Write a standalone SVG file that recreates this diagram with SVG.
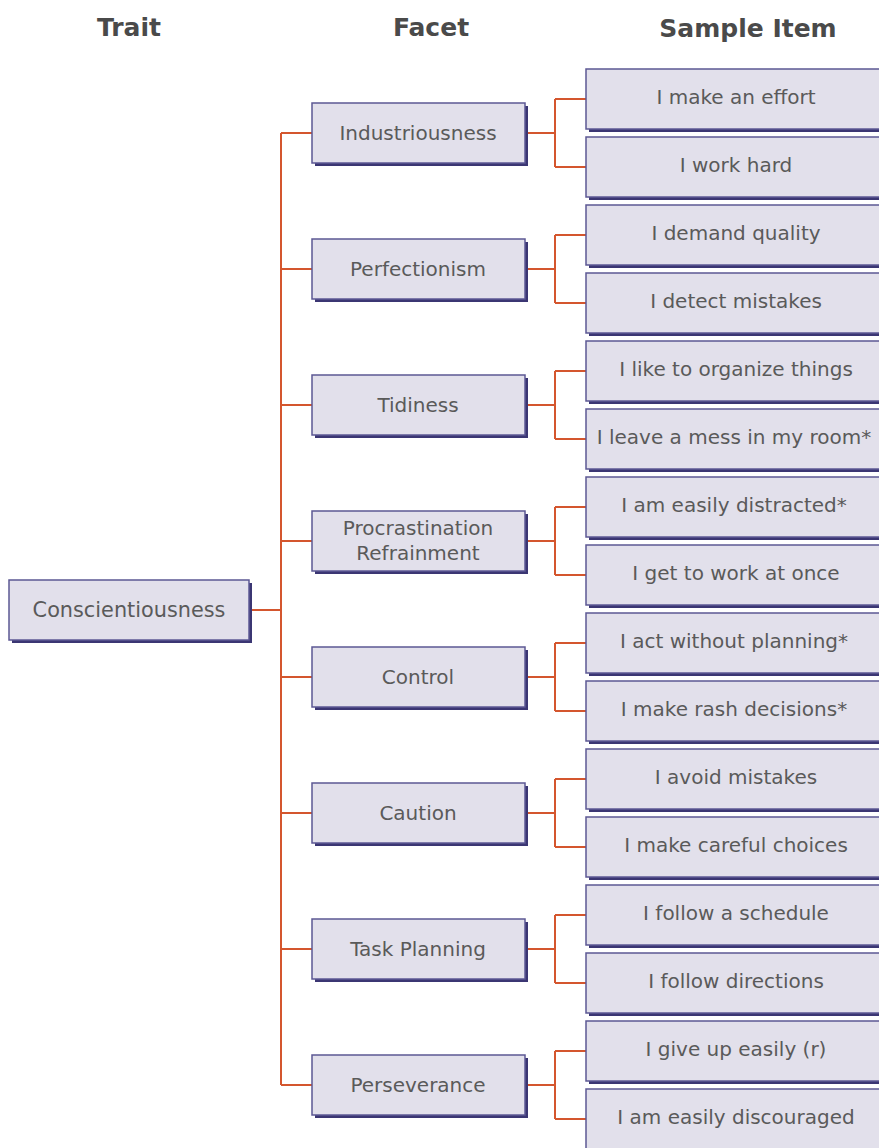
<svg xmlns="http://www.w3.org/2000/svg" width="879" height="1148" viewBox="0 0 879 1148">
<style>
.sh{fill:#3b3673}
.bx{fill:#e2e0eb;stroke:#5c5894;stroke-width:1.5}
.t{font-family:"DejaVu Sans",sans-serif;font-size:20px;fill:#5a5a5a;text-anchor:middle}
.h{font-family:"DejaVu Sans",sans-serif;font-size:25px;font-weight:bold;fill:#4a4a4a;text-anchor:middle}
.c{fill:none;stroke:#d4562e;stroke-width:2}
</style>
<rect width="879" height="1148" fill="#ffffff"/>
<g id="headers">
<text class="h" x="129" y="36">Trait</text>
<text class="h" x="431" y="36">Facet</text>
<text class="h" x="748" y="37">Sample Item</text>
</g>
<g id="connectors">
<path class="c" d="M249 610H281M281 133V1085"/>
<path class="c" d="M281 133H312M525 133H555M555 99V167M555 99H586M555 167H586"/>
<path class="c" d="M281 269H312M525 269H555M555 235V303M555 235H586M555 303H586"/>
<path class="c" d="M281 405H312M525 405H555M555 371V439M555 371H586M555 439H586"/>
<path class="c" d="M281 541H312M525 541H555M555 507V575M555 507H586M555 575H586"/>
<path class="c" d="M281 677H312M525 677H555M555 643V711M555 643H586M555 711H586"/>
<path class="c" d="M281 813H312M525 813H555M555 779V847M555 779H586M555 847H586"/>
<path class="c" d="M281 949H312M525 949H555M555 915V983M555 915H586M555 983H586"/>
<path class="c" d="M281 1085H312M525 1085H555M555 1051V1119M555 1051H586M555 1119H586"/>
</g>
<g id="trait"><rect class="sh" x="12" y="583" width="240" height="60"/><rect class="bx" x="9" y="580" width="240" height="60"/><text class="t" x="129" y="617" style="font-size:20.8px">Conscientiousness</text></g>
<g id="facet-industriousness"><rect class="sh" x="315" y="106" width="213" height="60"/><rect class="bx" x="312" y="103" width="213" height="60"/><text class="t" x="418" y="140">Industriousness</text></g>
<g id="facet-perfectionism"><rect class="sh" x="315" y="242" width="213" height="60"/><rect class="bx" x="312" y="239" width="213" height="60"/><text class="t" x="418" y="276">Perfectionism</text></g>
<g id="facet-tidiness"><rect class="sh" x="315" y="378" width="213" height="60"/><rect class="bx" x="312" y="375" width="213" height="60"/><text class="t" x="418" y="412">Tidiness</text></g>
<g id="facet-procrastination"><rect class="sh" x="315" y="514" width="213" height="60"/><rect class="bx" x="312" y="511" width="213" height="60"/><text class="t" x="418" y="535">Procrastination</text><text class="t" x="418" y="560">Refrainment</text></g>
<g id="facet-control"><rect class="sh" x="315" y="650" width="213" height="60"/><rect class="bx" x="312" y="647" width="213" height="60"/><text class="t" x="418" y="684">Control</text></g>
<g id="facet-caution"><rect class="sh" x="315" y="786" width="213" height="60"/><rect class="bx" x="312" y="783" width="213" height="60"/><text class="t" x="418" y="820">Caution</text></g>
<g id="facet-taskplanning"><rect class="sh" x="315" y="922" width="213" height="60"/><rect class="bx" x="312" y="919" width="213" height="60"/><text class="t" x="418" y="956">Task Planning</text></g>
<g id="facet-perseverance"><rect class="sh" x="315" y="1058" width="213" height="60"/><rect class="bx" x="312" y="1055" width="213" height="60"/><text class="t" x="418" y="1092">Perseverance</text></g>
<g id="item-1"><rect class="sh" x="589" y="72" width="300" height="60"/><rect class="bx" x="586" y="69" width="300" height="60"/><text class="t" x="736" y="104">I make an effort</text></g>
<g id="item-2"><rect class="sh" x="589" y="140" width="300" height="60"/><rect class="bx" x="586" y="137" width="300" height="60"/><text class="t" x="736" y="172">I work hard</text></g>
<g id="item-3"><rect class="sh" x="589" y="208" width="300" height="60"/><rect class="bx" x="586" y="205" width="300" height="60"/><text class="t" x="736" y="240">I demand quality</text></g>
<g id="item-4"><rect class="sh" x="589" y="276" width="300" height="60"/><rect class="bx" x="586" y="273" width="300" height="60"/><text class="t" x="736" y="308">I detect mistakes</text></g>
<g id="item-5"><rect class="sh" x="589" y="344" width="300" height="60"/><rect class="bx" x="586" y="341" width="300" height="60"/><text class="t" x="736" y="376">I like to organize things</text></g>
<g id="item-6"><rect class="sh" x="589" y="412" width="300" height="60"/><rect class="bx" x="586" y="409" width="300" height="60"/><text class="t" x="734" y="444">I leave a mess in my room*</text></g>
<g id="item-7"><rect class="sh" x="589" y="480" width="300" height="60"/><rect class="bx" x="586" y="477" width="300" height="60"/><text class="t" x="734" y="512">I am easily distracted*</text></g>
<g id="item-8"><rect class="sh" x="589" y="548" width="300" height="60"/><rect class="bx" x="586" y="545" width="300" height="60"/><text class="t" x="736" y="580">I get to work at once</text></g>
<g id="item-9"><rect class="sh" x="589" y="616" width="300" height="60"/><rect class="bx" x="586" y="613" width="300" height="60"/><text class="t" x="734" y="648">I act without planning*</text></g>
<g id="item-10"><rect class="sh" x="589" y="684" width="300" height="60"/><rect class="bx" x="586" y="681" width="300" height="60"/><text class="t" x="734" y="716">I make rash decisions*</text></g>
<g id="item-11"><rect class="sh" x="589" y="752" width="300" height="60"/><rect class="bx" x="586" y="749" width="300" height="60"/><text class="t" x="736" y="784">I avoid mistakes</text></g>
<g id="item-12"><rect class="sh" x="589" y="820" width="300" height="60"/><rect class="bx" x="586" y="817" width="300" height="60"/><text class="t" x="736" y="852">I make careful choices</text></g>
<g id="item-13"><rect class="sh" x="589" y="888" width="300" height="60"/><rect class="bx" x="586" y="885" width="300" height="60"/><text class="t" x="736" y="920">I follow a schedule</text></g>
<g id="item-14"><rect class="sh" x="589" y="956" width="300" height="60"/><rect class="bx" x="586" y="953" width="300" height="60"/><text class="t" x="736" y="988">I follow directions</text></g>
<g id="item-15"><rect class="sh" x="589" y="1024" width="300" height="60"/><rect class="bx" x="586" y="1021" width="300" height="60"/><text class="t" x="736" y="1056">I give up easily (r)</text></g>
<g id="item-16"><rect class="sh" x="589" y="1092" width="300" height="60"/><rect class="bx" x="586" y="1089" width="300" height="60"/><text class="t" x="736" y="1124">I am easily discouraged</text></g>
</svg>
